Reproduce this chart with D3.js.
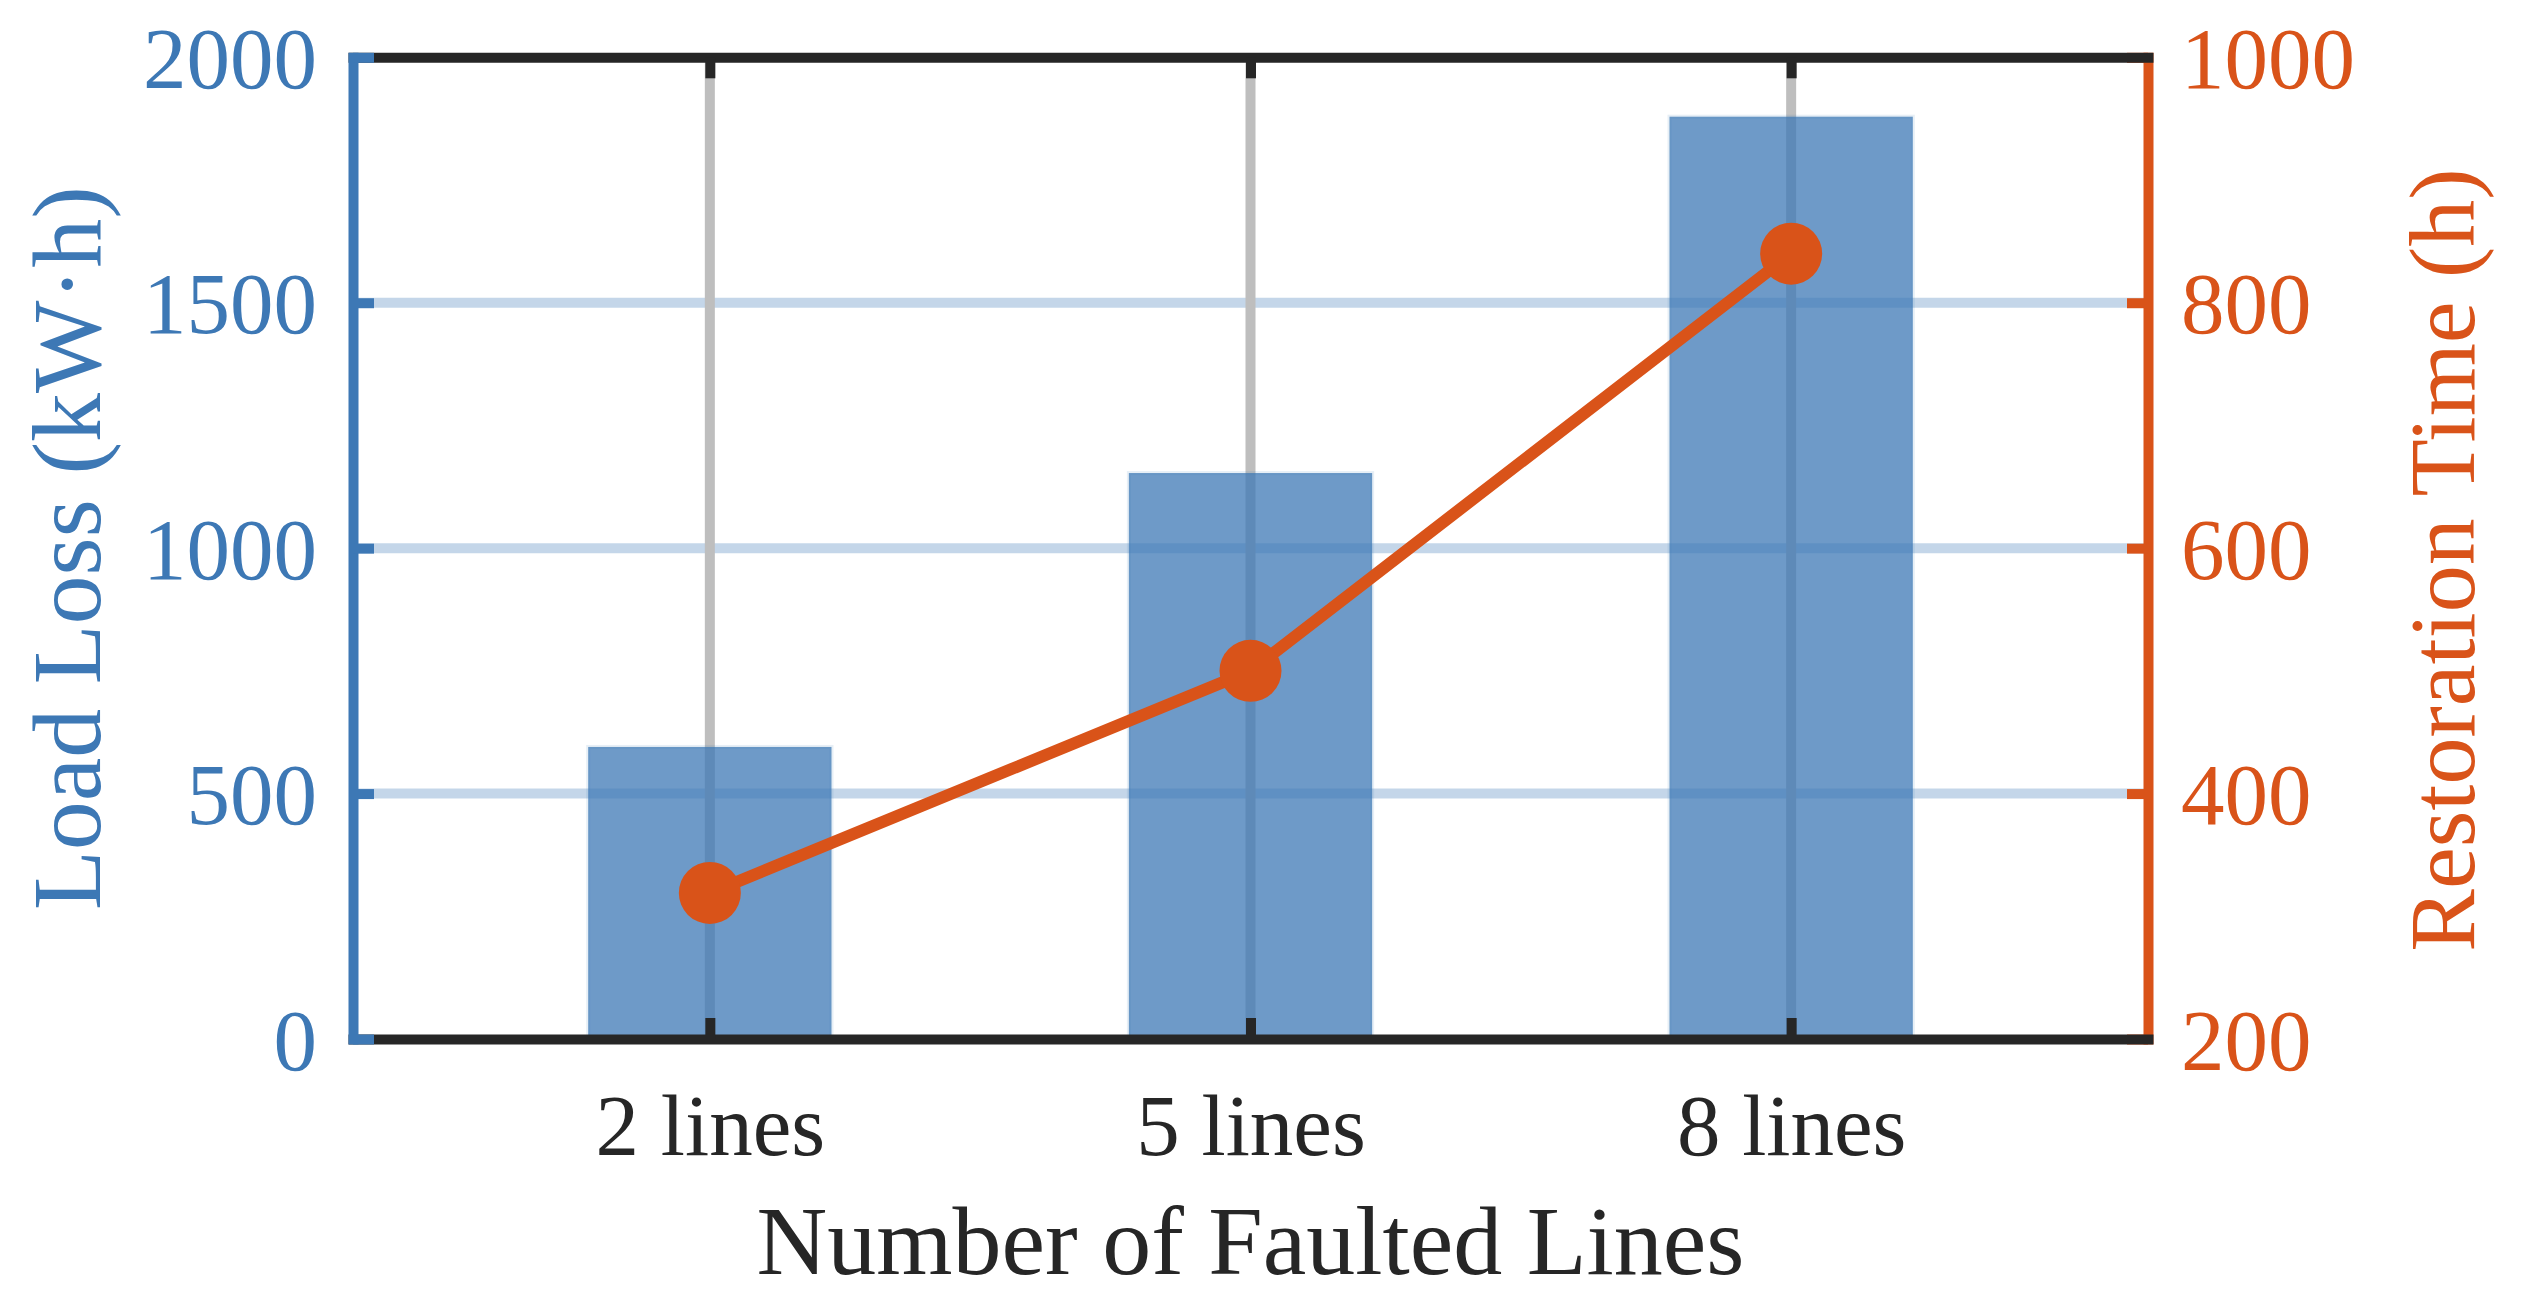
<!DOCTYPE html>
<html>
<head>
<meta charset="utf-8">
<script src="https://cdn.jsdelivr.net/npm/d3@7"></script>
<style>
  html, body { margin: 0; padding: 0; background: #ffffff; }
  svg { display: block; }
  text { font-family: "Liberation Serif", "Times New Roman", serif; }
</style>
</head>
<body>
<svg id="chart" width="2524" height="1303"></svg>
<script>
// ---- Data ----
const categories = ["2 lines", "5 lines", "8 lines"];
const loadLoss = [595, 1153, 1879];          // kW·h (left axis, bars)
const restorationTime = [319, 500, 840];     // h (right axis, line)
const leftTicks = [0, 500, 1000, 1500, 2000];
const rightTicks = [200, 400, 600, 800, 1000];
const xLabel = "Number of Faulted Lines";
const leftLabel = "Load Loss (kW·h)";
const rightLabel = "Restoration Time (h)";

// ---- Styles ----
const BLUE = "#3D78B5";
const ORANGE = "#D95319";
const DARK = "#262626";
const AXW = 10;
const TICKFS = 87;
const LABELFS = 98;

const svg = d3.select("#chart");
const L = 353, R = 2148, T = 57.3, B = 1039;

const idx = categories.map((d, i) => i + 1);
const x = d3.scaleLinear().domain([0.34, 3.66]).range([L, R]);
const yL = d3.scaleLinear().domain([0, 2000]).range([B, T]);
const yR = d3.scaleLinear().domain([200, 1000]).range([B, T]);
const barW = x(1.45) - x(1);

// ---- Grid ----
const grid = svg.append("g");
grid.selectAll("line.h").data(leftTicks.filter(d => d > 0 && d < 2000)).join("line")
  .attr("x1", L).attr("x2", R).attr("y1", d => yL(d)).attr("y2", d => yL(d))
  .attr("stroke", BLUE).attr("stroke-opacity", 0.3).attr("stroke-width", AXW);
grid.selectAll("line.v").data(idx).join("line")
  .attr("x1", d => x(d)).attr("x2", d => x(d)).attr("y1", T).attr("y2", B)
  .attr("stroke", "#BEBEBE").attr("stroke-width", AXW);

// ---- Bars ----
svg.append("g").selectAll("rect").data(loadLoss).join("rect")
  .attr("x", (d, i) => x(idx[i]) - barW / 2)
  .attr("width", barW)
  .attr("y", d => yL(d))
  .attr("height", d => yL(0) - yL(d))
  .attr("fill", BLUE).attr("fill-opacity", 0.75)
  .attr("stroke", BLUE).attr("stroke-opacity", 0.12).attr("stroke-width", 4);

// ---- Line + markers ----
const line = d3.line().x((d, i) => x(idx[i])).y(d => yR(d));
svg.append("path").datum(restorationTime)
  .attr("d", line).attr("fill", "none")
  .attr("stroke", ORANGE).attr("stroke-width", 12).attr("stroke-linejoin", "round");
svg.append("g").selectAll("circle").data(restorationTime).join("circle")
  .attr("cx", (d, i) => x(idx[i])).attr("cy", d => yR(d)).attr("r", 31)
  .attr("fill", ORANGE);

// ---- Axes ----
function styleAxis(g, color) {
  g.select(".domain").attr("stroke", color).attr("stroke-width", AXW).attr("stroke-linecap", "square");
  g.selectAll(".tick line").attr("stroke", color).attr("stroke-width", AXW);
  g.selectAll(".tick text").attr("fill", color)
    .style("font-family", '"Liberation Serif", "Times New Roman", serif')
    .style("font-size", TICKFS + "px");
}

// right axis (orange)
const gR = svg.append("g").attr("transform", `translate(${R},0)`)
  .call(d3.axisRight(yR).tickValues(rightTicks).tickFormat(d3.format("d"))
    .tickSizeInner(-21).tickSizeOuter(0).tickPadding(33));
styleAxis(gR, ORANGE);
gR.selectAll(".tick text").attr("dy", "0.345em");

// top axis (ticks only)
const gT = svg.append("g").attr("transform", `translate(0,${T})`)
  .call(d3.axisTop(x).tickValues(idx).tickFormat("").tickSizeInner(-21).tickSizeOuter(0));
styleAxis(gT, DARK);

// bottom axis
const gB = svg.append("g").attr("transform", `translate(0,${B})`)
  .call(d3.axisBottom(x).tickValues(idx).tickFormat((d, i) => categories[i])
    .tickSizeInner(-21).tickSizeOuter(0).tickPadding(54));
styleAxis(gB, DARK);

// left axis (blue)
const gL = svg.append("g").attr("transform", `translate(${L},0)`)
  .call(d3.axisLeft(yL).tickValues(leftTicks).tickFormat(d3.format("d"))
    .tickSizeInner(-21).tickSizeOuter(0).tickPadding(36));
styleAxis(gL, BLUE);
gL.selectAll(".tick text").attr("dy", "0.345em");

// ---- Axis labels ----
svg.append("text")
  .attr("x", (L + R) / 2).attr("y", 1274)
  .attr("text-anchor", "middle").attr("fill", DARK)
  .style("font-size", LABELFS + "px").text(xLabel);

svg.append("text")
  .attr("transform", `translate(100,${(T + B) / 2}) rotate(-90)`)
  .attr("text-anchor", "middle").attr("fill", BLUE)
  .style("font-size", LABELFS + "px").text(leftLabel);

svg.append("text")
  .attr("transform", `translate(2474,560) rotate(-90)`)
  .attr("text-anchor", "middle").attr("fill", ORANGE)
  .style("font-size", "94px").text(rightLabel);
</script>
</body>
</html>
